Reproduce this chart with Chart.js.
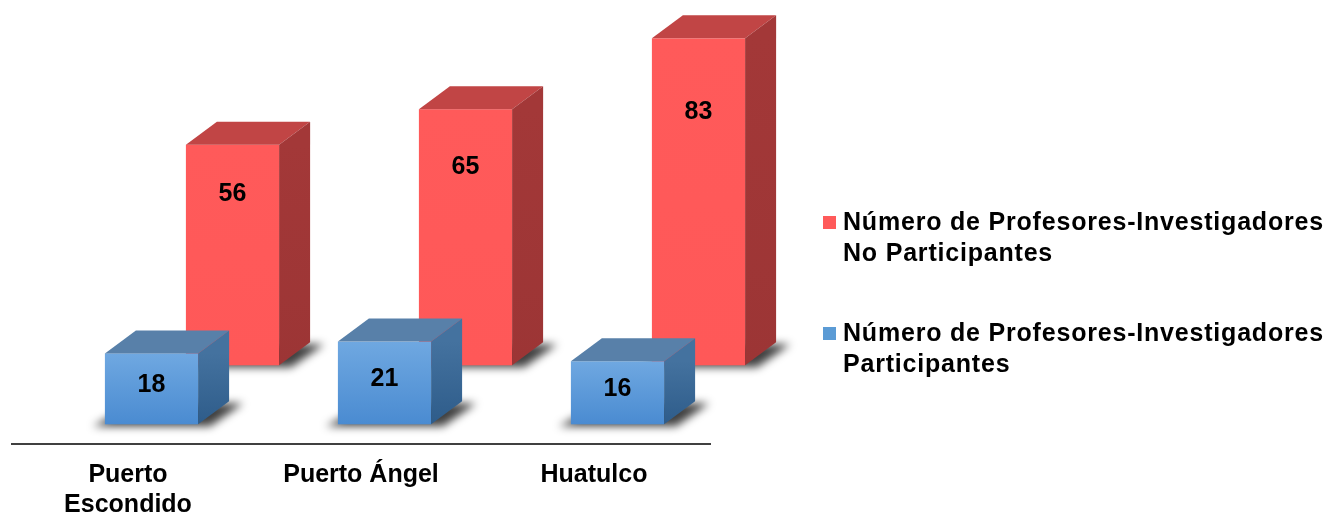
<!DOCTYPE html>
<html>
<head>
<meta charset="utf-8">
<script src="https://cdn.jsdelivr.net/npm/chart.js@4.4.1/dist/chart.umd.min.js"></script>
<style>
html, body { margin: 0; padding: 0; background: #fff; }
#wrap { position: relative; width: 1330px; height: 515px; }
.item { position: absolute; left: 823px; width: 505px; font: bold 25px "Liberation Sans", Arial, sans-serif; line-height: 31px; letter-spacing: 0.8px; color: #000; }
.item .sq { position: absolute; left: 0; top: 10px; width: 13px; height: 13px; }
.item .txt { margin-left: 20px; }
</style>
</head>
<body>
<div id="wrap">
	<canvas id="chart" width="1330" height="515"></canvas>
	<div id="legend"></div>
</div>
<script>
// DATA

const categories = [['Puerto', 'Escondido'], 'Puerto Ángel', 'Huatulco'];
const participantes = [18, 21, 16];
const noParticipantes = [56, 65, 83];
const seriesNames = [
	'Número de Profesores-Investigadores Participantes',
	'Número de Profesores-Investigadores No Participantes'
];

// STYLE

const FONT = '"Liberation Sans", Arial, sans-serif';
const BLUE = { front: ['#6fa8e1', '#4a8bd1'], top: '#5880a9', side: ['#44729f', '#2e5c8a'], legend: '#5b9bd5' };
const RED = { front: ['#ff5a5a', '#ff5858'], top: '#c14545', side: ['#a33838', '#9c3535'], legend: '#ff5a5a' };
const DEPTH = { dx: 31, dy: -23 };
// offset of each row on the floor (front row, back row)
const ROWS = [{ dx: 23.5, dy: 0, c: BLUE }, { dx: 104.5, dy: -59, c: RED }];

//==================================
// 3D BOXES
//==================================

function drawBox(ctx, x0, x1, yTop, yBase, c) {
	const dx = DEPTH.dx, dy = DEPTH.dy;

	// soft floor shadow
	ctx.save();
	ctx.filter = 'blur(4px)';
	ctx.fillStyle = 'rgba(0,0,0,0.75)';
	ctx.beginPath();
	ctx.moveTo(x0 - 12, yBase + 2);
	ctx.lineTo(x1 + 12, yBase + 2);
	ctx.lineTo(x1 + dx + 14, yBase + dy + 2);
	ctx.lineTo(x0 + dx, yBase + dy + 2);
	ctx.closePath();
	ctx.fill();
	ctx.restore();

	// front
	let g = ctx.createLinearGradient(0, yTop, 0, yBase);
	g.addColorStop(0, c.front[0]);
	g.addColorStop(1, c.front[1]);
	ctx.fillStyle = g;
	ctx.fillRect(x0, yTop, x1 - x0, yBase - yTop);

	// top
	ctx.fillStyle = c.top;
	ctx.beginPath();
	ctx.moveTo(x0, yTop);
	ctx.lineTo(x0 + dx, yTop + dy);
	ctx.lineTo(x1 + dx, yTop + dy);
	ctx.lineTo(x1, yTop);
	ctx.closePath();
	ctx.fill();

	// side
	g = ctx.createLinearGradient(0, yTop, 0, yBase);
	g.addColorStop(0, c.side[0]);
	g.addColorStop(1, c.side[1]);
	ctx.fillStyle = g;
	ctx.beginPath();
	ctx.moveTo(x1, yTop);
	ctx.lineTo(x1 + dx, yTop + dy);
	ctx.lineTo(x1 + dx, yBase + dy);
	ctx.lineTo(x1, yBase);
	ctx.closePath();
	ctx.fill();
}

const boxes3d = {
	id: 'boxes3d',
	beforeDatasetsDraw(chart) {
		const ctx = chart.ctx;
		// back row first, then front row
		for (let d = chart.data.datasets.length - 1; d >= 0; d--) {
			const meta = chart.getDatasetMeta(d);
			const row = ROWS[d];
			meta.data.forEach((bar, i) => {
				const p = bar.getProps(['x', 'y', 'base', 'width'], true);
				const x0 = p.x - p.width / 2 + row.dx;
				const x1 = p.x + p.width / 2 + row.dx;
				const yTop = p.y + row.dy;
				const yBase = p.base + row.dy;
				drawBox(ctx, x0, x1, yTop, yBase, row.c);

				// value label
				const h = yBase - yTop;
				const ly = d === 0 ? yTop + h / 2 - 4 : yTop + h * 0.225;
				ctx.save();
				ctx.fillStyle = '#000';
				ctx.font = 'bold 25px ' + FONT;
				ctx.textAlign = 'center';
				ctx.textBaseline = 'middle';
				ctx.fillText(chart.data.datasets[d].data[i], (x0 + x1) / 2, ly);
				ctx.restore();
			});
		}
		return false;
	}
};

//==================================
// CHART
//==================================

var mainChart;

function initialize() {
	const chart_context = document.getElementById('chart').getContext('2d');

	mainChart = new Chart(chart_context, {
		type: 'bar',
		data: {
			labels: categories,
			datasets: [{
				label: seriesNames[0],
				data: participantes,
				backgroundColor: BLUE.legend,
				grouped: false,
			}, {
				label: seriesNames[1],
				data: noParticipantes,
				backgroundColor: RED.legend,
				grouped: false,
			}],
		},
		options: {
			responsive: false,
			animation: false,
			devicePixelRatio: 1,
			categoryPercentage: 0.4,
			barPercentage: 1,
			layout: { padding: { left: 11.5, right: 619.5, top: 0, bottom: 0 } },
			plugins: {
				legend: { display: false },
				tooltip: { enabled: false },
			},
			scales: {
				x: {
					grid: { display: false, drawTicks: false },
					border: { display: true, color: '#404040', width: 2 },
					ticks: {
						color: '#000',
						font: { family: FONT, size: 25, weight: 'bold', lineHeight: 1.2 },
						padding: 16,
						maxRotation: 0,
						autoSkip: false,
					},
					afterFit(scale) { scale.height = 71; },
				},
				y: {
					display: false,
					min: -5,
					max: 107.7,
				},
			},
		},
		plugins: [boxes3d],
	});

	buildLegend();
}

// legend on the right, back row listed first
function buildLegend() {
	const legend = document.getElementById('legend');
	const tops = [317, 206];
	const colors = [BLUE.legend, RED.legend];
	for (let d = seriesNames.length - 1; d >= 0; d--) {
		const item = document.createElement('div');
		item.className = 'item';
		item.style.top = tops[d] + 'px';
		item.innerHTML = '<span class="sq" style="background:' + colors[d] + '"></span><div class="txt">' + seriesNames[d] + '</div>';
		legend.appendChild(item);
	}
}

initialize();
</script>
</body>
</html>
